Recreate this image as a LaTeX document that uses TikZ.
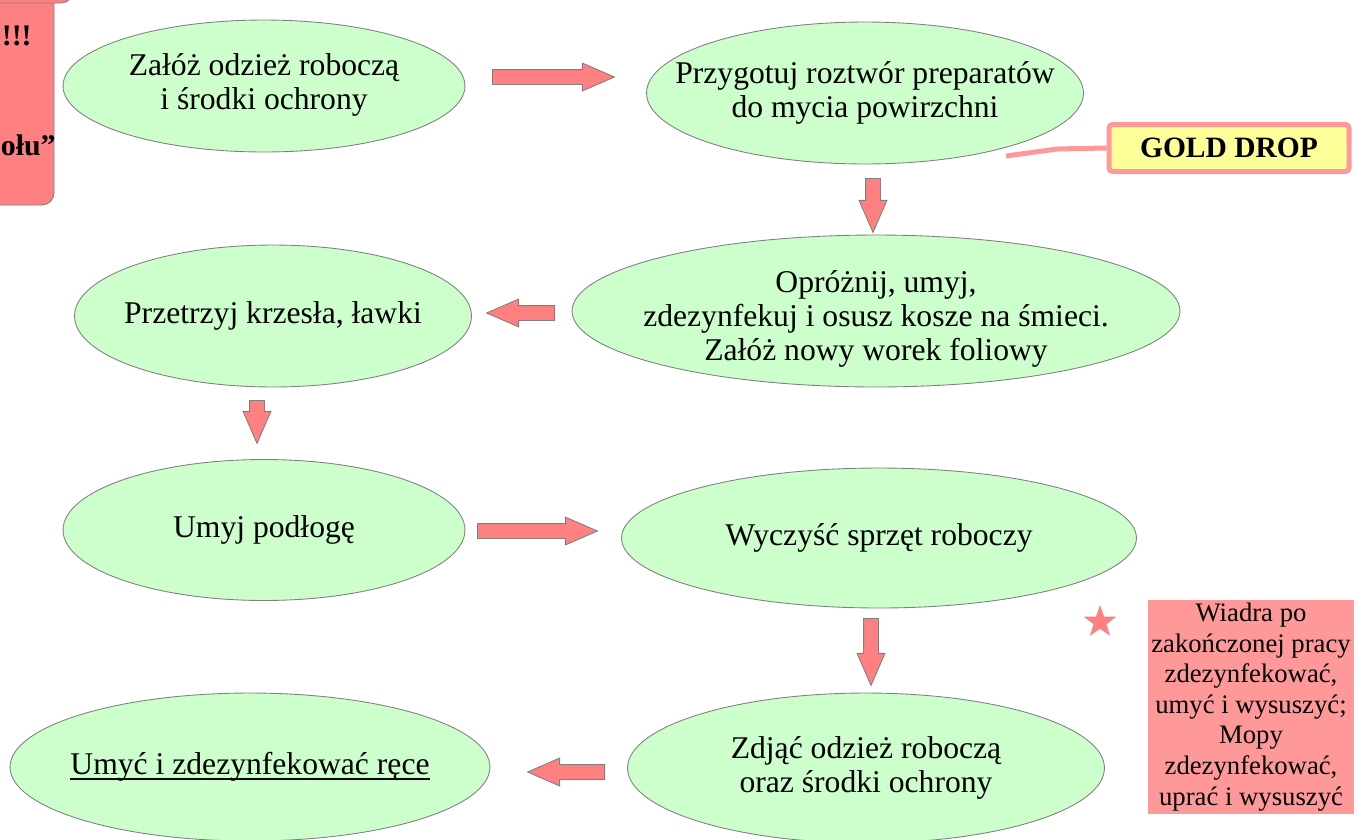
\documentclass[tikz,border=0pt]{standalone}
\usepackage{fontspec}
\setmainfont{Liberation Serif}
\usetikzlibrary{shapes.geometric, shapes.arrows}
\definecolor{stepgreen}{HTML}{CCFFCC}
\definecolor{arrowred}{HTML}{FF8080}
\definecolor{notepink}{HTML}{FF9999}
\definecolor{goldyellow}{HTML}{FFFF99}
\definecolor{edgegray}{HTML}{808080}
\tikzstyle{stepellipse} = [draw=edgegray, ellipse, fill=stepgreen, line width=0.5pt, inner sep=0pt]
\tikzstyle{steptext} = [align=center, font=\fontsize{18}{19.3}\selectfont, inner sep=0pt]
\tikzstyle{blockarrow} = [draw=edgegray, single arrow, fill=arrowred, line width=0.5pt, inner xsep=0pt, inner ysep=0.14cm, single arrow head extend=0.13cm, single arrow tip angle=47, anchor=tail]
\tikzstyle{downarrow} = [blockarrow, shape border rotate=270, inner xsep=0.14cm, inner ysep=0pt]
\newsavebox{\steplinebox}
\newcommand{\underlinestep}[1]{\sbox{\steplinebox}{#1}\rlap{\rule[-2.8pt]{\wd\steplinebox}{1pt}}\usebox{\steplinebox}}

\begin{document}
\begin{tikzpicture}[x=0.02cm, y=-0.02cm]
	\useasboundingbox (0,0) rectangle (1354,839);
	%side box, cut by the page edge
	\draw[draw=edgegray, fill=arrowred, line width=0.5pt, rounded corners=0.24cm] (-200,-60) rectangle (54,205);
	\draw[draw=edgegray, fill=arrowred, line width=0.5pt, rounded corners=0.24cm] (-200,-100) rectangle (73,3);
	\node[anchor=base east, inner sep=0pt, font=\bfseries\fontsize{17}{20}\selectfont] (warning1) at (32,45) {!!!};
	\node[anchor=base east, inner sep=0pt, font=\bfseries\fontsize{17}{20}\selectfont] (warning2) at (56,155) {ołu”};

	%diagram
	\node[stepellipse, minimum width=8.04cm, minimum height=2.64cm] (zaloz) at (264,86) {};
	\node[steptext] (zaloz text) at ([yshift=0.03cm]zaloz.center) {Załóż odzież roboczą\\i środki ochrony};
	\node[stepellipse, minimum width=8.74cm, minimum height=2.84cm] (przygotuj) at (865,93) {};
	\node[steptext] (przygotuj text) at (przygotuj) {Przygotuj roztwór preparatów\\do mycia powirzchni};
	\node[stepellipse, minimum width=12.16cm, minimum height=3.04cm] (oproznij) at (876,311) {};
	\node[steptext] (oproznij text) at ([yshift=-0.15cm]oproznij.center) {Opróżnij, umyj,\\zdezynfekuj i osusz kosze na śmieci.\\Załóż nowy worek foliowy};
	\node[stepellipse, minimum width=7.94cm, minimum height=2.84cm] (przetrzyj) at (273,316) {};
	\node[steptext] (przetrzyj text) at (przetrzyj) {Przetrzyj krzesła, ławki};
	\node[stepellipse, minimum width=8.04cm, minimum height=2.82cm] (podloga) at (264,530) {};
	\node[steptext] (podloga text) at (podloga) {Umyj podłogę};
	\node[stepellipse, minimum width=10.3cm, minimum height=2.8cm] (sprzet) at (879,538) {};
	\node[steptext] (sprzet text) at (sprzet) {Wyczyść sprzęt roboczy};
	\node[stepellipse, minimum width=9.54cm, minimum height=3cm] (zdjac) at (866,768) {};
	\node[steptext] (zdjac text) at (zdjac) {Zdjąć odzież roboczą\\oraz środki ochrony};
	\node[stepellipse, minimum width=9.6cm, minimum height=2.96cm] (rece) at (250,767) {};
	\node[steptext] (rece text) at (rece) {\underlinestep{Umyć i zdezynfekować ręce}};

	%arrows
	\node[blockarrow, minimum height=2.44cm] (arrow1) at (492,77) {};
	\node[downarrow, minimum height=1.08cm] (arrow2) at (873,178) {};
	\node[blockarrow, minimum height=1.36cm, shape border rotate=180] (arrow3) at (555,313) {};
	\node[downarrow, minimum height=0.86cm] (arrow4) at (257,400) {};
	\node[blockarrow, minimum height=2.4cm] (arrow5) at (477,531) {};
	\node[downarrow, minimum height=1.34cm] (arrow6) at (871,618) {};
	\node[blockarrow, minimum height=1.54cm, shape border rotate=180] (arrow7) at (605,772) {};

	%callout
	\node[draw=notepink, line width=0.1cm, fill=goldyellow, rounded corners=2pt, minimum width=4.8cm, minimum height=0.94cm, font=\bfseries\fontsize{16.8}{20}\selectfont] (gold) at (1229,148) {GOLD DROP};
	\coordinate (gold tail) at (1006,156);
	\draw[notepink, line width=0.1cm] (gold tail) -- (1057,149) -- (gold.west);

	%note
	\node[star, star points=5, star point ratio=2.5, fill=arrowred, minimum size=0.68cm, inner sep=0pt] (mark) at (1100,622) {};
	\node[fill=notepink, minimum width=4.12cm, minimum height=4.3cm, align=center, inner sep=0pt, font=\fontsize{15.2}{17.4}\selectfont] (note) at (1251,707) {Wiadra po\\zakończonej pracy\\zdezynfekować,\\umyć i wysuszyć;\\Mopy\\zdezynfekować,\\uprać i wysuszyć};
\end{tikzpicture}
\end{document}
